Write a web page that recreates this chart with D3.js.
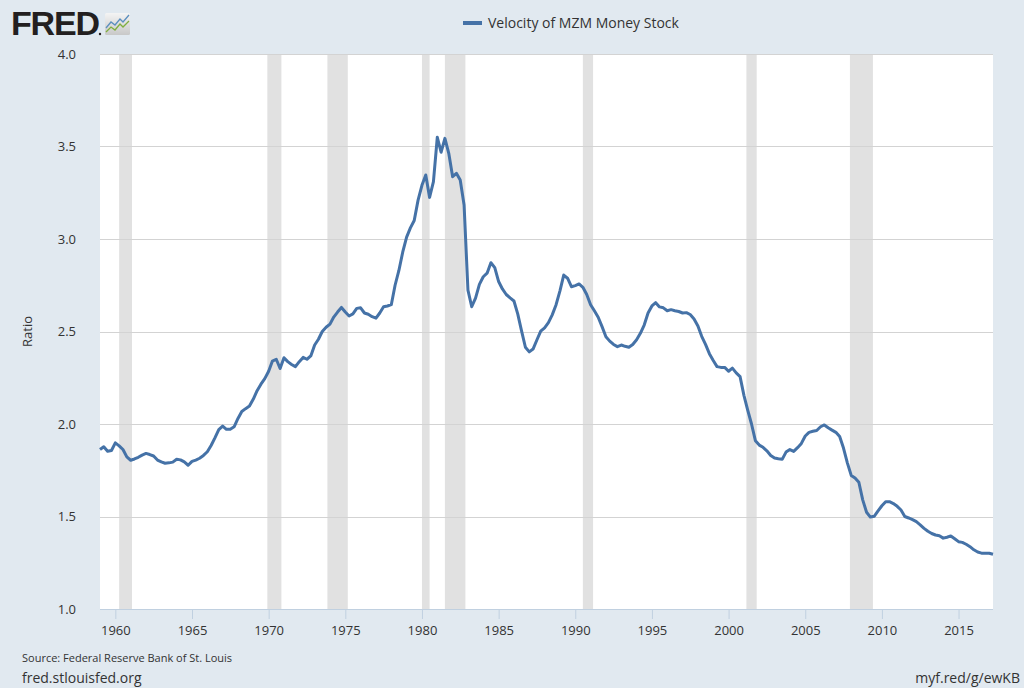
<!DOCTYPE html>
<html>
<head>
<meta charset="utf-8">
<script src="https://cdn.jsdelivr.net/npm/d3@7"></script>
<style>
  html, body { margin: 0; padding: 0; background: #e1e9f0; }
  svg { display: block; }
  text { font-family: "Open Sans", "Noto Sans", sans-serif; }
</style>
</head>
<body>
<svg id="chart" width="1024" height="688"></svg>
<script>
// ---- data (quarterly, 1959Q1 .. 2017Q2) ----
const seriesName = "Velocity of MZM Money Stock";
const startYear = 1959;
const velocity = [
  1.862, 1.877, 1.853, 1.857,  // 1959
  1.898, 1.882, 1.862, 1.822,  // 1960
  1.804, 1.811, 1.820, 1.832,  // 1961
  1.841, 1.835, 1.827, 1.805,  // 1962
  1.795, 1.788, 1.790, 1.794,  // 1963
  1.809, 1.806, 1.795, 1.777,  // 1964
  1.798, 1.805, 1.815, 1.830,  // 1965
  1.850, 1.884, 1.925, 1.970,  // 1966
  1.989, 1.971, 1.972, 1.985,  // 1967
  2.030, 2.068, 2.083, 2.097,  // 1968
  2.135, 2.180, 2.215, 2.245,  // 1969
  2.285, 2.340, 2.350, 2.300,  // 1970
  2.358, 2.337, 2.322, 2.310,  // 1971
  2.337, 2.360, 2.350, 2.368,  // 1972
  2.427, 2.458, 2.500, 2.523,  // 1973
  2.540, 2.578, 2.605, 2.630,  // 1974
  2.605, 2.584, 2.595, 2.625,  // 1975
  2.628, 2.600, 2.593, 2.580,  // 1976
  2.572, 2.600, 2.634, 2.638,  // 1977
  2.645, 2.750, 2.830, 2.930,  // 1978
  3.010, 3.060, 3.100, 3.210,  // 1979
  3.290, 3.346, 3.225, 3.310,  // 1980
  3.550, 3.469, 3.544, 3.463,  // 1981
  3.337, 3.355, 3.319, 3.184,  // 1982
  2.724, 2.634, 2.680, 2.755,  // 1983
  2.796, 2.815, 2.872, 2.845,  // 1984
  2.770, 2.730, 2.700, 2.682,  // 1985
  2.665, 2.595, 2.503, 2.415,  // 1986
  2.390, 2.405, 2.454, 2.502,  // 1987
  2.520, 2.548, 2.590, 2.645,  // 1988
  2.720, 2.805, 2.788, 2.742,  // 1989
  2.748, 2.757, 2.739, 2.700,  // 1990
  2.645, 2.612, 2.577, 2.526,  // 1991
  2.472, 2.448, 2.430, 2.418,  // 1992
  2.427, 2.420, 2.415, 2.430,  // 1993
  2.455, 2.490, 2.535, 2.600,  // 1994
  2.638, 2.656, 2.633, 2.628,  // 1995
  2.612, 2.618, 2.612, 2.608,  // 1996
  2.600, 2.602, 2.592, 2.568,  // 1997
  2.530, 2.474, 2.430, 2.380,  // 1998
  2.343, 2.310, 2.306, 2.306,  // 1999
  2.285, 2.302, 2.276, 2.256,  // 2000
  2.155, 2.075, 2.000, 1.910,  // 2001
  1.886, 1.874, 1.855, 1.830,  // 2002
  1.816, 1.812, 1.809, 1.848,  // 2003
  1.862, 1.852, 1.872, 1.895,  // 2004
  1.935, 1.955, 1.961, 1.965,  // 2005
  1.985, 1.995, 1.980, 1.967,  // 2006
  1.955, 1.932, 1.870, 1.790,  // 2007
  1.722, 1.708, 1.685, 1.590,  // 2008
  1.523, 1.497, 1.501, 1.530,  // 2009
  1.558, 1.580, 1.580, 1.570,  // 2010
  1.555, 1.535, 1.500, 1.492,  // 2011
  1.483, 1.472, 1.455, 1.436,  // 2012
  1.420, 1.408, 1.400, 1.396,  // 2013
  1.383, 1.388, 1.395, 1.380,  // 2014
  1.364, 1.360, 1.350, 1.337,  // 2015
  1.320, 1.308, 1.302, 1.301,  // 2016
  1.301, 1.296                 // 2017
];
const recessionStarts = ["1960-04-01", "1969-12-01", "1973-11-01", "1980-01-01", "1981-07-01", "1990-07-01", "2001-03-01", "2007-12-01"];
const recessionEnds   = ["1961-02-01", "1970-11-01", "1975-03-01", "1980-07-01", "1982-11-01", "1991-03-01", "2001-11-01", "2009-06-01"];
const yTicks = [1.0, 1.5, 2.0, 2.5, 3.0, 3.5, 4.0];
const xTickYears = [1960, 1965, 1970, 1975, 1980, 1985, 1990, 1995, 2000, 2005, 2010, 2015];
const yLabel = "Ratio";
const sourceText = "Source: Federal Reserve Bank of St. Louis";
const siteText = "fred.stlouisfed.org";
const linkText = "myf.red/g/ewKB";

// ---- build ----
const parse = d3.timeParse("%Y-%m-%d");
const data = velocity.map((v, i) => ({
  date: new Date(startYear + Math.floor(i / 4), (i % 4) * 3, 1),
  value: v
}));
const recessions = recessionStarts.map((s, i) => ({ start: parse(s), end: parse(recessionEnds[i]) }));

const svg = d3.select("#chart");
const W = 1024, H = 688;
const plot = { left: 100, right: 993, top: 54, bottom: 609 };

svg.append("rect").attr("width", W).attr("height", H).attr("fill", "#e1e9f0");

const x = d3.scaleTime()
  .domain([data[0].date, data[data.length - 1].date])
  .range([plot.left, plot.right]);
const y = d3.scaleLinear().domain([1, 4]).range([plot.bottom, plot.top]);

// plot background
svg.append("rect")
  .attr("x", plot.left).attr("y", plot.top)
  .attr("width", plot.right - plot.left).attr("height", plot.bottom - plot.top)
  .attr("fill", "#ffffff");

// recession shading
svg.append("g").selectAll("rect").data(recessions).join("rect")
  .attr("x", d => x(d.start))
  .attr("y", plot.top)
  .attr("width", d => x(d.end) - x(d.start))
  .attr("height", plot.bottom - plot.top)
  .attr("fill", "#e1e1e1");

// gridlines
svg.append("g").selectAll("line").data(yTicks.filter(t => t > 1)).join("line")
  .attr("x1", plot.left).attr("x2", plot.right)
  .attr("y1", d => Math.round(y(d)) + 0.5).attr("y2", d => Math.round(y(d)) + 0.5)
  .attr("stroke", "#d3d3d3").attr("stroke-width", 1);

// y axis labels
const yAxis = d3.axisLeft(y).tickValues(yTicks).tickFormat(d3.format(".1f")).tickSize(0).tickPadding(0);
const gy = svg.append("g").attr("transform", `translate(${plot.left - 24},0)`).call(yAxis);
gy.select(".domain").remove();
gy.selectAll("text")
  .attr("fill", "#333333")
  .style("font-size", "13px")
  .style("font-family", '"Open Sans", sans-serif');

// x axis
const xAxis = d3.axisBottom(x)
  .tickValues(xTickYears.map(yr => new Date(yr, 0, 1)))
  .tickFormat(d3.timeFormat("%Y"))
  .tickSize(10).tickPadding(7);
const gx = svg.append("g").attr("transform", `translate(0,${plot.bottom})`).call(xAxis);
gx.select(".domain").attr("d", `M${plot.left},0.5H${plot.right}`).attr("stroke", "#c0d0e0");
gx.selectAll(".tick line").attr("stroke", "#c0d0e0");
gx.selectAll("text")
  .attr("fill", "#333333")
  .style("font-size", "13px")
  .style("font-family", '"Open Sans", sans-serif');

// y label
svg.append("text")
  .attr("transform", `translate(32,${(plot.top + plot.bottom) / 2}) rotate(-90)`)
  .attr("text-anchor", "middle")
  .attr("fill", "#333333")
  .style("font-size", "13px")
  .text(yLabel);

// series line
const line = d3.line().x(d => x(d.date)).y(d => y(d.value));
svg.append("path").datum(data)
  .attr("d", line)
  .attr("fill", "none")
  .attr("stroke", "#4572a7")
  .attr("stroke-width", 3)
  .attr("stroke-linejoin", "round");

// legend
svg.append("line")
  .attr("x1", 463).attr("x2", 482).attr("y1", 23).attr("y2", 23)
  .attr("stroke", "#4572a7").attr("stroke-width", 4);
svg.append("text")
  .attr("x", 488).attr("y", 28)
  .attr("fill", "#333333")
  .style("font-size", "14px")
  .style("font-weight", "500")
  .text(seriesName);

// FRED logo
svg.append("text")
  .attr("x", 11).attr("y", 35)
  .attr("fill", "#231f20")
  .style("font-family", '"Liberation Sans", Arial, sans-serif')
  .style("font-size", "34px")
  .style("font-weight", "900")
  .style("letter-spacing", "-1.2px")
  .text("FRED");
svg.append("circle").attr("cx", 100).attr("cy", 34).attr("r", 1.2).attr("fill", "#231f20");
const icon = svg.append("g").attr("transform", "translate(105,13)");
const grad = svg.append("defs").append("linearGradient").attr("id", "ig").attr("x1", 0).attr("x2", 0).attr("y1", 0).attr("y2", 1);
grad.append("stop").attr("offset", "0%").attr("stop-color", "#f4f4f4");
grad.append("stop").attr("offset", "100%").attr("stop-color", "#c8c8c8");
icon.append("rect").attr("width", 25).attr("height", 22).attr("rx", 1.5).attr("fill", "url(#ig)");
icon.append("path").attr("d", "M1,15 L6,9 L10,12 L15,6 L18,9 L24,2").attr("fill", "none").attr("stroke", "#5b8fbf").attr("stroke-width", 1.3);
icon.append("path").attr("d", "M1,19 L6,14 L10,17 L15,11 L18,14 L24,8").attr("fill", "none").attr("stroke", "#7fae3e").attr("stroke-width", 1.3);

// footer
svg.append("text").attr("x", 22).attr("y", 662)
  .attr("fill", "#333333").style("font-size", "11px")
  .text(sourceText);
svg.append("text").attr("x", 22).attr("y", 683)
  .attr("fill", "#333333").style("font-size", "14px")
  .text(siteText);
svg.append("text").attr("x", 1020).attr("y", 683)
  .attr("text-anchor", "end")
  .attr("fill", "#333333").style("font-size", "14px")
  .text(linkText);
</script>
</body>
</html>
